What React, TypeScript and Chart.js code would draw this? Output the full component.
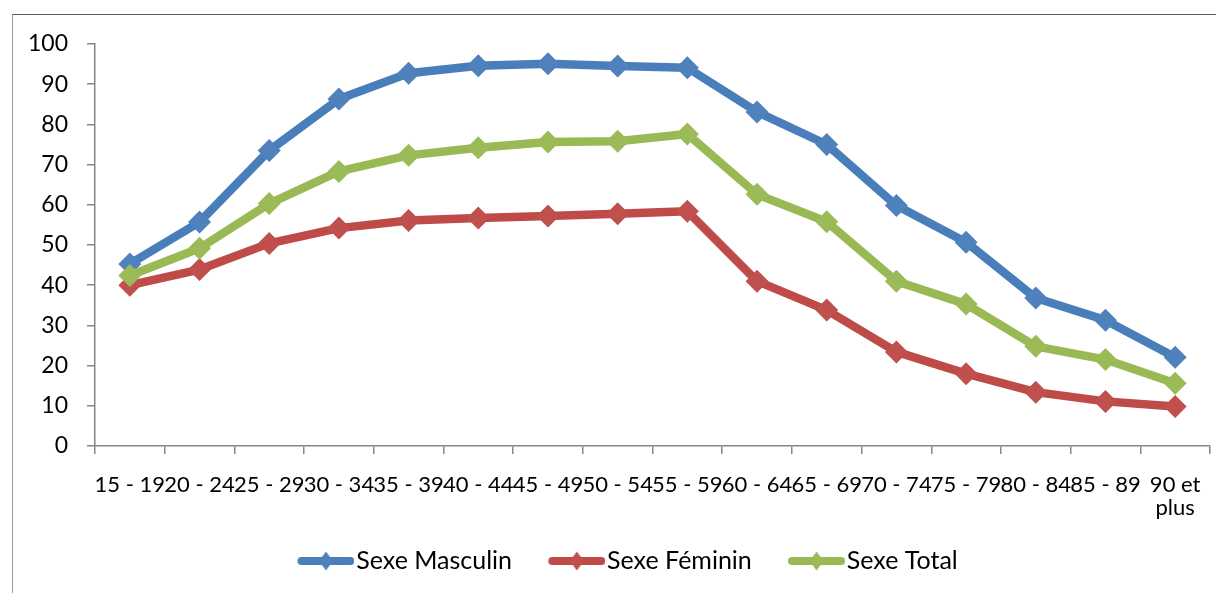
import React, { useEffect, useRef } from "react";
import { Chart, registerables } from "chart.js";

Chart.register(...registerables);

const categories: (string | string[])[] = [
  "15 - 19", "20 - 24", "25 - 29", "30 - 34", "35 - 39", "40 - 44", "45 - 49", "50 - 54",
  "55 - 59", "60 - 64", "65 - 69", "70 - 74", "75 - 79", "80 - 84", "85 - 89", ["90 et", "plus"],
];
const seriesNames = ["Sexe Masculin", "Sexe Féminin", "Sexe Total"];
const masculin = [45.3, 55.7, 73.5, 86.3, 92.7, 94.6, 95.1, 94.5, 94.1, 83.1, 75.0, 59.8, 50.7, 36.8, 31.3, 22.1];
const feminin = [40.0, 43.9, 50.4, 54.2, 56.1, 56.7, 57.2, 57.8, 58.4, 41.0, 33.8, 23.4, 18.0, 13.4, 11.1, 9.8];
const total = [42.4, 49.2, 60.3, 68.3, 72.3, 74.2, 75.6, 75.8, 77.6, 62.6, 55.8, 41.0, 35.3, 24.8, 21.5, 15.6];
const yTicks = [0, 10, 20, 30, 40, 50, 60, 70, 80, 90, 100];

const lineColors = ["#4A7EBB", "#BE4B48", "#98B954"];
const markerColors = ["#4F81BD", "#C0504D", "#9BBB59"];

// legend icon: transparent canvas, visible line+diamond on its right part
function makeLegendIcon(line: string, fill: string) {
  const c = document.createElement("canvas");
  c.width = 86;
  c.height = 22;
  const ctx = c.getContext("2d")!;
  const x0 = 29;
  const x1 = 86;
  const cy = 11;
  ctx.strokeStyle = line;
  ctx.lineWidth = 8;
  ctx.lineCap = "round";
  ctx.beginPath();
  ctx.moveTo(x0 + 4, cy);
  ctx.lineTo(x1 - 4, cy);
  ctx.stroke();
  ctx.fillStyle = fill;
  const mx = (x0 + x1) / 2;
  ctx.beginPath();
  ctx.moveTo(mx, cy - 9.5);
  ctx.lineTo(mx + 7, cy);
  ctx.lineTo(mx, cy + 9.5);
  ctx.lineTo(mx - 7, cy);
  ctx.closePath();
  ctx.fill();
  return c;
}

export default function App() {
  const ref = useRef<HTMLCanvasElement | null>(null);

  useEffect(() => {
    if (!ref.current) return;
    const axisColor = "#868686";
    const icons = lineColors.map((c, i) => makeLegendIcon(c, markerColors[i]));
    const values = [masculin, feminin, total];
    const legendShift = {
      id: "legendShift",
      afterLayout(chart: any) {
        if (chart.legend) {
          chart.legend.left += 7;
          chart.legend.right += 7;
        }
      },
    };
    const chart = new Chart(ref.current, {
      type: "line",
      data: {
        labels: categories,
        datasets: values.map((v, i) => ({
          label: seriesNames[i],
          data: v,
          borderColor: lineColors[i],
          backgroundColor: markerColors[i],
          borderWidth: 8.5,
          borderCapStyle: "round",
          borderJoinStyle: "round",
          tension: 0,
          pointStyle: "rectRot",
          pointRadius: 11.5,
          pointBorderWidth: 0,
          pointBackgroundColor: markerColors[i],
          pointBorderColor: markerColors[i],
          order: 2 - i,
          fill: false,
        })),
      },
      options: {
        responsive: false,
        animation: false,
        layout: { padding: { top: 29, right: 14, left: 0, bottom: 9.5 } },
        plugins: {
          tooltip: { enabled: false },
          legend: {
            position: "bottom",
            labels: {
              usePointStyle: true,
              pointStyleWidth: 64.5,
              padding: 18,
              color: "#000",
              font: { family: "Lato", size: 25 },
              sort: (a: any, b: any) => a.datasetIndex - b.datasetIndex,
              generateLabels: (chart: any) => {
                const items = Chart.defaults.plugins.legend.labels.generateLabels(chart);
                items.forEach((it: any) => {
                  it.pointStyle = icons[it.datasetIndex];
                });
                return items;
              },
            },
          },
        },
        scales: {
          x: {
            type: "category",
            offset: true,
            ticks: {
              color: "#000",
              font: { family: "Lato", size: 22, lineHeight: 1.05 },
              autoSkip: false,
              maxRotation: 0,
              minRotation: 0,
              padding: 19,
            },
            grid: {
              offset: true,
              drawOnChartArea: false,
              drawTicks: true,
              tickLength: 8,
              color: axisColor,
              lineWidth: 1.5,
            },
            border: { color: axisColor, width: 1.5 },
            afterFit: (s: any) => {
              s.height = 84.5;
              s.paddingLeft = 0;
              s.paddingRight = 0;
            },
          },
          y: {
            min: 0,
            max: 100,
            afterBuildTicks: (s: any) => {
              s.ticks = yTicks.map((v) => ({ value: v }));
            },
            ticks: { color: "#000", font: { family: "Lato", size: 23 }, padding: 19 },
            grid: {
              drawOnChartArea: false,
              drawTicks: true,
              tickLength: 8,
              color: axisColor,
              lineWidth: 1.5,
            },
            border: { color: axisColor, width: 1.5 },
            afterFit: (s: any) => {
              s.width = 82;
              s.paddingTop = 0;
              s.paddingBottom = 0;
            },
          },
        },
      },
      plugins: [legendShift],
    });
    return () => chart.destroy();
  }, []);

  return (
    <div style={{ position: "relative", width: 1216, height: 585 }}>
      <div
        style={{
          position: "absolute",
          left: 4,
          top: 6,
          width: 1211,
          height: 578,
          borderLeft: "1px solid #9a9a9a",
          borderTop: "1px solid #595959",
        }}
      >
        <canvas ref={ref} width={1211} height={578} style={{ display: "block" }} />
      </div>
    </div>
  );
}
